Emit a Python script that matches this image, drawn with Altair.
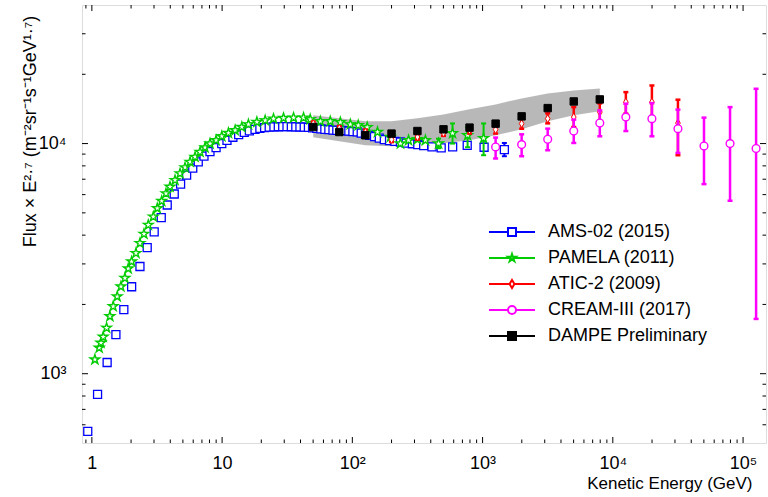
import altair as alt
import pandas as pd

NAMES = ["AMS-02 (2015)", "PAMELA (2011)", "ATIC-2 (2009)", "CREAM-III (2017)", "DAMPE Preliminary"]
COLORS = ["#0000ff", "#00cc00", "#ff0000", "#ff00ff", "#000000"]
FILLS = ["white", "white", "white", "white", "black"]

# ---------------- data (kinetic energy in GeV, flux x E^2.7) ----------------
ams_e = [0.93, 1.106, 1.31, 1.53, 1.76, 2.02, 2.34, 2.66, 3.01, 3.41, 3.79, 4.29, 4.80, 5.34, 5.95,
         6.56, 7.26, 8.07, 8.99, 9.94, 10.9, 12.1, 13.4, 14.8, 16.2, 17.9, 19.5, 21.2, 23.0, 25.0,
         27.0, 29.2, 31.5, 34.0, 36.8, 39.6, 42.7, 46.0, 49.5, 53.3, 57.3, 61.5, 66.0, 71.0, 76.0,
         81.6, 87.6, 94.0, 101, 109, 117, 126, 136, 148, 161, 176, 193, 212, 234, 259, 289, 318,
         353, 409, 481, 589, 762, 1027, 1470]
ams_f = [562, 813, 1119, 1479, 1899, 2387, 2923, 3532, 4130, 4762, 5408, 6039, 6670, 7296, 7822,
         8325, 8812, 9233, 9609, 10000, 10334, 10650, 10940, 11190, 11360, 11530, 11650, 11730, 11780, 11810,
         11830, 11840, 11840, 11830, 11820, 11800, 11780, 11750, 11700, 11640, 11580, 11530, 11490, 11450, 11420,
         11400, 11370, 11330, 11280, 11230, 11100, 10980, 10850, 10720, 10560, 10400, 10300, 10220, 10160, 10050, 9980, 9900,
         9800, 9667, 9570, 9667, 9830, 9640, 9420]
ams_err_e = [762, 1027, 1470]
ams_err_lo = [9640, 9300, 8810]
ams_err_hi = [10020, 9990, 10060]

pam_e = [1.055, 1.138, 1.173, 1.222, 1.298, 1.376, 1.458, 1.565, 1.672, 1.794, 1.902, 2.020, 2.181, 2.340,
         2.512, 2.711, 2.962, 3.179, 3.437, 3.709, 3.981, 4.350, 4.753, 5.193, 5.674, 6.199, 6.772, 7.399,
         8.08, 8.99, 9.95, 11.18, 12.59, 14.17, 15.93, 18.49, 21.42, 24.81, 29.62, 35.36, 42.2, 47.5, 56.8,
         67.7, 80.9, 96.5, 111, 130, 156, 196, 234, 270, 316, 364, 459, 588, 767, 1018]
pam_f = [1153, 1296, 1362, 1446, 1582, 1776, 1962, 2165, 2392, 2603, 2865, 3072, 3341, 3691,
         4050, 4430, 4812, 5231, 5627, 6074, 6486, 6936, 7416, 7874, 8324, 8750, 9196, 9609,
         10000, 10335, 10755, 11115, 11418, 11799, 12118, 12400, 12613, 12828, 12904, 12958, 12958, 12740, 12490,
         12490, 12365, 12118, 12000, 11765, 11225, 10680, 10000, 10335, 10438, 10335, 10000, 11080, 10860, 10540]
pam_err_e = [459, 588, 767, 1018]
pam_err_lo = [9550, 10000, 9640, 8900]
pam_err_hi = [10500, 12230, 11760, 12230]

atic_e = [50.1, 79.4, 126, 200, 316, 501, 794, 1259, 1995, 3162, 5012, 7943, 12589, 19953, 31623]
atic_f = [12206, 11650, 11224, 10407, 10680, 11115, 11418, 11497, 12206, 12828, 13036, 13700, 15140, 15140, 12280]
atic_lo = [11950, 11400, 10950, 10150, 10400, 10800, 11050, 11050, 11600, 12240, 11800, 12240, 13490, 12610, 8900]
atic_hi = [12460, 11900, 11500, 10670, 10960, 11430, 11790, 11950, 12820, 13530, 14400, 14950, 16730, 17880, 15510]

cream_e = [1259, 1995, 3162, 5012, 7943, 12589, 19953, 31623, 50119, 79433, 125893]
cream_f = [9667, 9901, 10437, 11337, 12280, 13036, 12828, 11610, 9763, 10000, 9515]
cream_lo = [8613, 8811, 9354, 10060, 10755, 11337, 10755, 9106, 6665, 5644, 1730]
cream_hi = [10616, 10970, 11610, 12700, 13940, 14900, 14990, 14040, 12960, 14400, 17300]

dampe_e = [50.1, 79.4, 126, 200, 316, 501, 794, 1259, 1995, 3162, 5012, 7943]
dampe_f = [11799, 11224, 10862, 11048, 11337, 11530, 11730, 12206, 13128, 14260, 15240, 15550]
band_lo = [10650, 10232, 9831, 9734, 9831, 10030, 10335, 10862, 11530, 12490, 13260, 13800]
band_hi = [13260, 12870, 12490, 12490, 12870, 13390, 14080, 14800, 15710, 16510, 17010, 17360]

x_major = [1, 10, 100, 1000, 10000, 100000]
x_minor = [0.9] + [m * 10 ** k for k in range(0, 5) for m in range(2, 10)]
y_major = [1000, 10000]
y_minor = [600, 700, 800, 900, 2000, 3000, 4000, 5000, 6000, 7000, 8000, 9000, 20000, 30000]

# ---------------- styling ----------------
W, H = 684, 438
FONT = "Liberation Sans"

xscale = alt.Scale(type="log", domain=[0.84, 150000], nice=False)
yscale = alt.Scale(type="log", domain=[500, 40000], nice=False)

x_label_expr = ("datum.value < 5 ? '1' : datum.value < 50 ? '10' : datum.value < 500 ? '10²' : "
                "datum.value < 5000 ? '10³' : datum.value < 50000 ? '10⁴' : '10⁵'")
y_label_expr = "datum.value < 5000 ? '10³' : '10⁴'"

xax = alt.Axis(values=x_major, labelExpr=x_label_expr, title="Kenetic Energy (GeV)", grid=False,
               domain=False, ticks=False, tickSize=0, labelPadding=11, labelFontSize=18, labelFont=FONT,
               labelColor="black", labelFlush=False, labelOverlap=False, titleFont=FONT, titleFontSize=17,
               titleFontWeight="normal", titleColor="black", titleAlign="right", titleX=670, titleY=32,
               titleBaseline="top")
yax = alt.Axis(values=y_major, labelExpr=y_label_expr,
               title="Flux × E²·⁷ (m⁻²sr⁻¹s⁻¹GeV¹·⁷)", grid=False, domain=False, ticks=False,
               tickSize=0, labelPadding=16, labelFontSize=18, labelFont=FONT, labelColor="black",
               labelFlush=False, labelOverlap=False, titleFont=FONT, titleFontSize=18,
               titleFontWeight="normal", titleColor="black", titleX=-52, titleY=126, titleAngle=270,
               titleAlign="center", titleBaseline="middle")

# legend glyphs: a line with the marker in the middle
L = "M-5.75,0H-1M1,0H5.75"
STAR = ("M0,-1L0.223,-0.307L0.951,-0.309L0.361,0.117L0.588,0.809L0,0.38L-0.588,0.809"
        "L-0.361,0.117L-0.951,-0.309L-0.223,-0.307Z")
SQUARE = "M-1,-1H1V1H-1Z"
DIAMOND = "M0,-1L0.6,0L0,1L-0.6,0Z"
CIRCLE = "M-1,0A1,1,0,1,0,1,0A1,1,0,1,0,-1,0Z"
glyphs = [L + SQUARE, "M-5.75,0H-0.6M0.6,0H5.75" + STAR, "M-5.75,0H-0.6M0.6,0H5.75" + DIAMOND,
          L + CIRCLE, "M-5.75,0H5.75" + SQUARE]
shape_expr = ""
for n, g in zip(NAMES[:-1], glyphs[:-1]):
    shape_expr += "datum.value == '%s' ? '%s' : " % (n, g)
shape_expr += "'%s'" % glyphs[-1]
fill_expr = "datum.value == 'DAMPE Preliminary' ? 'black' : 'white'"

leg = alt.Legend(title=None, orient="none", legendX=421, legendY=218, padding=0, labelFont=FONT,
                 labelFontSize=18, labelColor="black", labelOffset=27, rowPadding=8, symbolSize=64,
                 symbolStrokeWidth=2, labelLimit=0, symbolOpacity=1,
                 symbolType={"expr": shape_expr}, symbolFillColor={"expr": fill_expr})
stroke_enc = alt.Stroke("series:N", scale=alt.Scale(domain=NAMES, range=COLORS), legend=leg)
fill_enc = alt.Fill("series:N", scale=alt.Scale(domain=NAMES, range=FILLS), legend=leg)


def X(f="E"):
    return alt.X(f + ":Q", scale=xscale, axis=xax)


def Y(f="F"):
    return alt.Y(f + ":Q", scale=yscale, axis=yax)


def pts(name, e, f, shape, size, sw):
    df = pd.DataFrame({"E": e, "F": f, "series": name})
    return alt.Chart(df).mark_point(shape=shape, size=size, strokeWidth=sw, opacity=1,
                                    clip=True).encode(x=X(), y=Y(), stroke=stroke_enc, fill=fill_enc)


def ebar(e, lo, hi, color, sw):
    df = pd.DataFrame({"E": e, "lo": lo, "hi": hi})
    base = alt.Chart(df)
    r = base.mark_rule(color=color, strokeWidth=sw, clip=True).encode(x=X(), y=Y("lo"), y2="hi:Q")
    caps = base.transform_fold(["lo", "hi"], as_=["k", "v"]).mark_point(
        shape="stroke", size=25, strokeWidth=sw, color=color, opacity=1, clip=True).encode(x=X(), y=Y("v"))
    return [r, caps]


band_df = pd.DataFrame({"E": dampe_e, "lo": band_lo, "hi": band_hi})
band = alt.Chart(band_df).mark_area(color="#888888", opacity=0.6).encode(x=X(), y=Y("lo"), y2="hi:Q")


def xticks(vals, y1, y2):
    return alt.Chart(pd.DataFrame({"v": vals})).mark_rule(color="black", strokeWidth=1).encode(
        x=X("v"), y=alt.value(y1), y2=alt.value(y2))


def yticks(vals, x1, x2):
    return alt.Chart(pd.DataFrame({"v": vals})).mark_rule(color="black", strokeWidth=1).encode(
        y=Y("v"), x=alt.value(x1), x2=alt.value(x2))


ticks = [xticks(x_major, H, H - 6), xticks(x_minor, H, H - 3.5), xticks(x_major, 0, 6), xticks(x_minor, 0, 3.5),
         yticks(y_major, 0, 6), yticks(y_minor, 0, 3.5), yticks(y_major, W, W - 6), yticks(y_minor, W, W - 3.5)]

layers = [band] + ticks
layers += ebar(ams_err_e, ams_err_lo, ams_err_hi, "#0000ff", 2)
layers += [pts(NAMES[0], ams_e, ams_f, "square", 64, 1.3)]
layers += ebar(pam_err_e, pam_err_lo, pam_err_hi, "#00cc00", 2)
layers += [pts(NAMES[1], pam_e, pam_f, STAR, 100, 1.4)]
layers += ebar(atic_e, atic_lo, atic_hi, "#ff0000", 2.5)
layers += [pts(NAMES[2], atic_e, atic_f, DIAMOND, 60, 1)]
layers += ebar(cream_e, cream_lo, cream_hi, "#ff00ff", 2.5)
layers += [pts(NAMES[3], cream_e, cream_f, "circle", 60, 1.4)]
layers += [pts(NAMES[4], dampe_e, dampe_f, "square", 55, 1)]

chart = alt.layer(*layers).properties(
    width=W, height=H, autosize=alt.AutoSizeParams(type="none"),
    padding={"left": 82, "top": 5, "right": 2, "bottom": 54},
).configure_view(stroke="black", strokeWidth=1.5).configure(font=FONT)

chart.save("out.html", embed_options={"renderer": "svg", "actions": False})
